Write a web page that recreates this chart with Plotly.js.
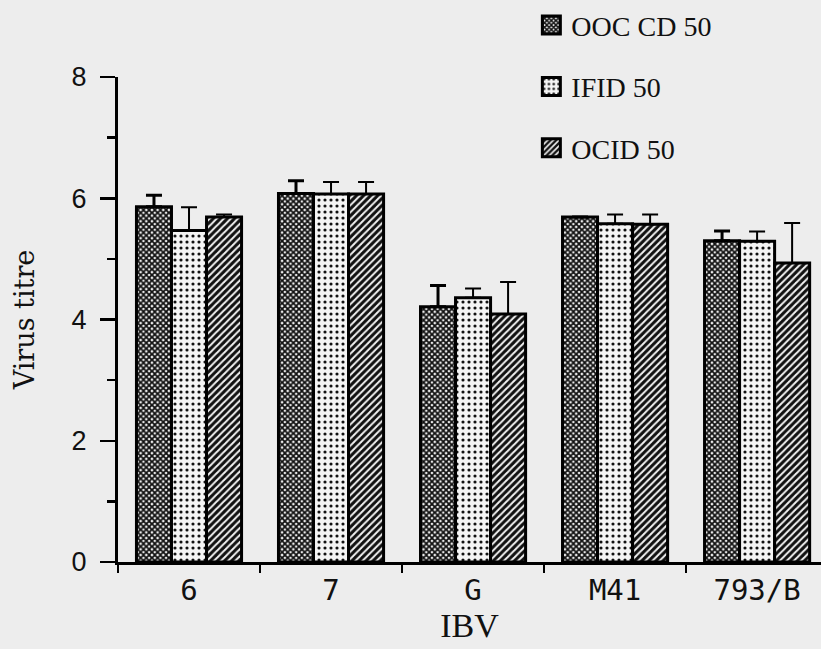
<!DOCTYPE html>
<html>
<head>
<meta charset="utf-8">
<script src="https://cdn.plot.ly/plotly-3.0.1.min.js"></script>
<style>
  html, body { margin: 0; padding: 0; background: #ededed; }
  #chart { width: 821px; height: 649px; }
</style>
</head>
<body>
<div id="chart"></div>
<script>
// IBV strains on the category axis
const strains = ['6', '7', 'G', 'M41', '793/B'];

// Virus titres (log10) and upper error for each assay
const oocCd50 = [5.86, 6.08, 4.21, 5.69, 5.30];
const oocCd50Err = [0.19, 0.21, 0.35, 0.0, 0.16];

const ifid50 = [5.47, 6.07, 4.36, 5.58, 5.29];
const ifid50Err = [0.38, 0.20, 0.15, 0.15, 0.16];

const ocid50 = [5.69, 6.07, 4.09, 5.57, 4.93];
const ocid50Err = [0.04, 0.20, 0.53, 0.16, 0.66];

const seriesNames = ['OOC CD 50', 'IFID 50', 'OCID 50'];

const zeros = strains.map(() => 0);

function upperError(arr, thick) {
  return {
    type: 'data', symmetric: false, array: arr, arrayminus: zeros,
    color: '#000', thickness: thick, width: 8, visible: true
  };
}

const outline = { color: '#000', width: 3 };

const traces = [
  {
    type: 'bar', name: seriesNames[0], x: strains, y: oocCd50,
    legendgroup: 'a',
    marker: {
      color: '#000', line: outline,
      pattern: { shape: 'x', size: 4, solidity: 0.7, fgcolor: '#111', bgcolor: '#f2f2f2' }
    },
    error_y: upperError(oocCd50Err, 3)
  },
  {
    type: 'bar', name: seriesNames[1], x: strains, y: ifid50,
    legendgroup: 'b',
    marker: {
      color: '#000', line: outline,
      pattern: { shape: '.', size: 6, solidity: 0.22, fgcolor: '#111', bgcolor: '#f4f4f4' }
    },
    error_y: upperError(ifid50Err, 2)
  },
  {
    type: 'bar', name: seriesNames[2], x: strains, y: ocid50,
    legendgroup: 'c',
    marker: {
      color: '#000', line: outline,
      pattern: { shape: '/', size: 5, solidity: 0.4, fgcolor: '#f2f2f2', bgcolor: '#111' }
    },
    error_y: upperError(ocid50Err, 2)
  }
];

const tickFont = { family: 'DejaVu Sans Mono, monospace', size: 29, color: '#111' };

const layout = {
  width: 821, height: 649,
  paper_bgcolor: '#ededed', plot_bgcolor: '#ededed',
  margin: { l: 118, r: 0, t: 75, b: 87, pad: 0 },
  barmode: 'group', bargap: 0.26, bargroupgap: 0,
  showlegend: true,
  legend: {
    x: 0.588, xanchor: 'left', y: 1.158, yanchor: 'top',
    bgcolor: 'rgba(0,0,0,0)', borderwidth: 0,
    font: { family: 'Liberation Serif, serif', size: 28, color: '#111' },
    tracegroupgap: 22, traceorder: 'grouped'
  },
  xaxis: {
    type: 'category', range: [-0.5, 4.45],
    showline: true, linecolor: '#000', linewidth: 3,
    ticks: 'outside', tickson: 'boundaries', ticklen: 8, tickwidth: 2.5, tickcolor: '#000',
    showgrid: false, zeroline: false,
    tickfont: tickFont,
    title: { text: 'IBV', standoff: 6, font: { family: 'Liberation Serif, serif', size: 34, color: '#111' } }
  },
  yaxis: {
    range: [0, 8], dtick: 2, tick0: 0,
    showline: true, linecolor: '#000', linewidth: 3,
    ticks: 'outside', ticklen: 15, tickwidth: 2.5, tickcolor: '#000',
    ticklabelstandoff: 8,
    minor: { dtick: 1, ticks: 'outside', ticklen: 8, tickwidth: 2.5, tickcolor: '#000', showgrid: false },
    showgrid: false, zeroline: false,
    tickfont: { family: 'Liberation Sans, sans-serif', size: 27, color: '#111' },
    title: { text: 'Virus titre', standoff: 30, font: { family: 'DejaVu Serif, serif', size: 27, color: '#111' } }
  }
};

Plotly.newPlot('chart', traces, layout, { displayModeBar: false, staticPlot: true }).then(function (gd) {
  // Larger legend swatches
  gd.querySelectorAll('.legendpoints path').forEach(function (p) {
    p.setAttribute('d', 'M9,9H-9V-9H9Z');
  });
});
</script>
</body>
</html>
